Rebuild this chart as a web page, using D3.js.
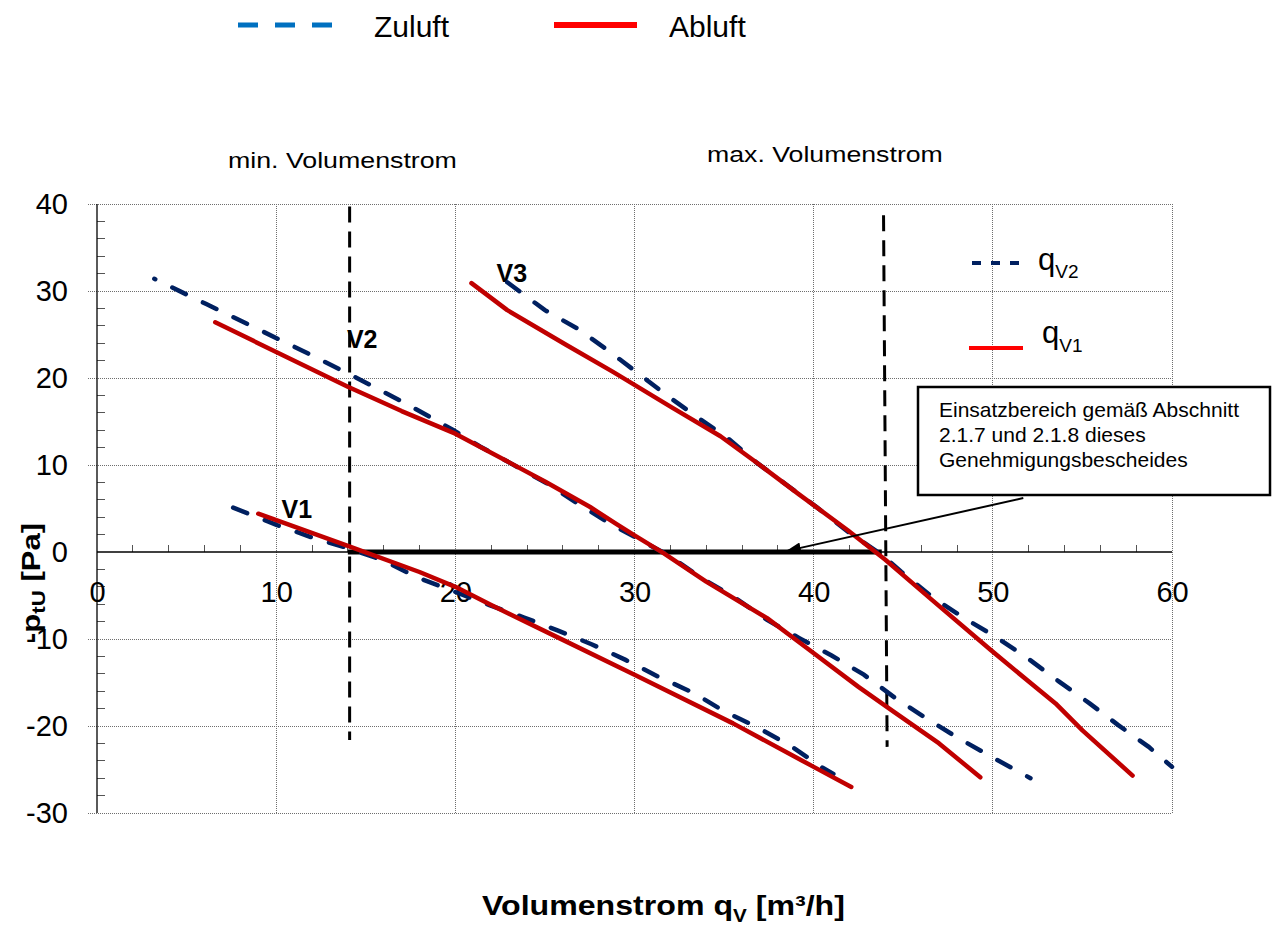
<!DOCTYPE html>
<html>
<head>
<meta charset="utf-8">
<script src="https://cdn.jsdelivr.net/npm/d3@7"></script>
<style>
  body { margin: 0; background: #fff; }
  svg { display: block; font-family: "Liberation Sans", Arial, sans-serif; }
</style>
</head>
<body>
<div id="chart"></div>
<script>
// Axis ticks
var xTicks = [0, 10, 20, 30, 40, 50, 60];
var yTicks = [-30, -20, -10, 0, 10, 20, 30, 40];
var xMinor = [2, 4, 6, 8, 12, 14, 16, 18, 22, 24, 26, 28, 32, 34, 36, 38, 42, 44, 46, 48, 52, 54, 56, 58];
var yMinor = [-28, -26, -24, -22, -18, -16, -14, -12, -8, -6, -4, -2, 2, 4, 6, 8, 12, 14, 16, 18, 22, 24, 26, 28, 32, 34, 36, 38];

// Curves: [q_V, -p_tU]
var v1Zuluft = [[7.6, 5.1], [10.05, 3.1], [12.1, 1.6], [14, 0.45], [15.9, -0.9], [17.85, -2.9], [21.9, -6.1], [23.8, -7.5], [25.7, -9.0], [27.6, -10.6], [29.5, -12.4], [31.3, -14.3], [33.3, -16.2], [35.0, -18.3], [36.9, -20.2], [38.8, -22.4], [40.5, -24.8], [41.1, -25.5]];
var v1Abluft = [[9.0, 4.4], [14, 0.7], [18, -2.3], [20, -4.0], [22, -6.1], [26, -10.1], [30, -14.1], [35.5, -19.7], [40, -24.7], [42.1, -27.0]];
var v2Zuluft = [[3.2, 31.4], [6.1, 28.5], [8.9, 25.7], [11.7, 22.9], [14.5, 20.0], [17.3, 17.0], [19.9, 14.0], [21.4, 12.1], [23.0, 10.3], [25.1, 7.9], [26.8, 5.6], [28.6, 3.3], [30.3, 1.4], [32, -0.5], [33.8, -3.1], [35.5, -5.1], [37.4, -7.8], [39.2, -9.9], [41, -11.9], [42.8, -14.1], [44.5, -16.7], [46.2, -19.0], [48, -21.3], [49.8, -23.4], [52.1, -26.0]];
var v2Abluft = [[6.6, 26.4], [10, 23.0], [14, 19.0], [17, 16.2], [20, 13.6], [23, 10.3], [25, 8.1], [27.5, 5.2], [29, 3.2], [30, 1.9], [31.6, -0.1], [34, -3.4], [37.4, -7.6], [39.6, -11.0], [42.5, -15.5], [44.5, -18.4], [47, -22.0], [49.3, -25.9]];
var v3Zuluft = [[22.9, 31.0], [25, 27.8], [26.8, 25.7], [28.5, 23.2], [30.1, 20.7], [31.8, 18.0], [33.5, 15.5], [35.2, 13.1], [36.8, 10.3], [38.5, 7.7], [40.2, 5.1], [42.0, 2.2], [43.8, -0.3], [44.9, -2.3], [46.7, -5.3], [48.4, -7.6], [50.2, -9.8], [52, -12.3], [53.7, -14.9], [55.4, -17.4], [57, -19.9], [58.7, -22.4], [60, -24.7]];
var v3Abluft = [[20.9, 30.9], [22.9, 27.8], [26.2, 23.8], [28.8, 20.7], [32.1, 16.6], [34.8, 13.3], [37.0, 10.0], [39.2, 6.6], [41.9, 2.5], [44.0, -0.9], [46.6, -5.5], [49.9, -11.3], [52.6, -15.9], [53.5, -17.4], [55, -20.5], [57.8, -25.7]];

// Volumenstrom limits and operating range
var minLine = [[14.1, 39.7], [14.1, -21.6]];
var maxLine = [[43.9, 38.7], [44.1, -22.4]];
var rangeLine = [[14, 0], [43.8, 0]];
var arrowLine = [[51.7, 6.2], [38.45, 0.1]];

var curveLabels = ["V1", "V2", "V3"];
var boxLines = ["Einsatzbereich gemäß Abschnitt", "2.1.7 und 2.1.8 dieses", "Genehmigungsbescheides"];

var svg = d3.select("#chart")
    .append("svg")
    .attr("width", 1272)
    .attr("height", 926);

var x = d3.scaleLinear().domain([0, 60]).range([97, 1172]);
var y = d3.scaleLinear().domain([-30, 40]).range([813, 204]);

// stretch a text horizontally to a target width (the original font is wider)
function stretch(sel, target, x0) {
    var w = sel.node().getBBox().width;
    var k = target / w;
    sel.attr("transform", "translate(" + x0 + ",0) scale(" + k + ",1) translate(" + (-x0) + ",0)");
}

// gridlines
var grid = svg.append("g")
    .attr("stroke", "#6e6e6e")
    .attr("stroke-width", 1)
    .attr("stroke-dasharray", "1,1")
    .attr("shape-rendering", "crispEdges");

grid.selectAll(".vg")
    .data(xTicks.filter(d => d > 0))
    .join("line")
    .attr("x1", d => x(d)).attr("x2", d => x(d))
    .attr("y1", y(40)).attr("y2", y(-30));

grid.selectAll(".hg")
    .data(yTicks.filter(d => d !== 0))
    .join("line")
    .attr("x1", x(0) - 9).attr("x2", x(60))
    .attr("y1", d => y(d)).attr("y2", d => y(d));

// minor ticks
svg.append("g")
    .attr("stroke", "#555")
    .attr("shape-rendering", "crispEdges")
    .selectAll("line")
    .data(xMinor)
    .join("line")
    .attr("x1", d => x(d)).attr("x2", d => x(d))
    .attr("y1", y(0)).attr("y2", y(0) - 7);

svg.append("g")
    .attr("stroke", "#555")
    .attr("shape-rendering", "crispEdges")
    .selectAll("line")
    .data(yMinor)
    .join("line")
    .attr("x1", x(0)).attr("x2", x(0) + 8)
    .attr("y1", d => y(d)).attr("y2", d => y(d));

// axis lines
svg.append("line")
    .attr("x1", x(0)).attr("x2", x(60))
    .attr("y1", y(0)).attr("y2", y(0))
    .attr("stroke", "#000").attr("stroke-width", 1.3);
svg.append("line")
    .attr("x1", x(0)).attr("x2", x(0))
    .attr("y1", y(40)).attr("y2", y(-30))
    .attr("stroke", "#000").attr("stroke-width", 1.3);

// tick labels through d3 axes (plain hyphen minus like the original)
var bottomAxis = d3.axisBottom(x).tickValues(xTicks).tickSize(0).tickPadding(29)
    .tickFormat(d => String(d));
var leftAxis = d3.axisLeft(y).tickValues(yTicks).tickSize(0).tickPadding(29)
    .tickFormat(d => String(d));

var gx = svg.append("g")
    .attr("transform", "translate(0," + y(0) + ")")
    .call(bottomAxis);
var gy = svg.append("g")
    .attr("transform", "translate(" + x(0) + ",0)")
    .call(leftAxis);
[gx, gy].forEach(function (g) {
    g.select(".domain").remove();
    g.selectAll("text")
        .attr("fill", "#000")
        .style("font-size", "29px")
        .style("font-family", "'Liberation Sans', Arial, sans-serif");
});

// curve labels V1..V3
var labelPos = [[10.3, 3.9], [13.95, 23.4], [22.3, 31.0]];
svg.append("g")
    .selectAll("text")
    .data(curveLabels)
    .join("text")
    .attr("x", (d, i) => x(labelPos[i][0]))
    .attr("y", (d, i) => y(labelPos[i][1]))
    .style("font-size", "25px")
    .style("font-weight", "bold")
    .text(d => d);

var line = d3.line().x(d => x(d[0])).y(d => y(d[1]));

// min / max Volumenstrom lines
[minLine, maxLine].forEach(function (pts) {
    svg.append("path")
        .attr("d", line(pts))
        .attr("fill", "none")
        .attr("stroke", "#000")
        .attr("stroke-width", 3)
        .attr("stroke-dasharray", "16,9");
});

svg.append("path")
    .attr("d", line(rangeLine))
    .attr("fill", "none")
    .attr("stroke", "#000")
    .attr("stroke-width", 5);

// curves
var zuluft = [v1Zuluft, v2Zuluft, v3Zuluft];
var zuluftOffset = [0, 14, 0];
var abluft = [v1Abluft, v2Abluft, v3Abluft];

svg.append("g")
    .selectAll("path")
    .data(zuluft)
    .join("path")
    .attr("d", line)
    .attr("fill", "none")
    .attr("stroke", "#002060")
    .attr("stroke-width", 4.5)
    .attr("stroke-linecap", "round")
    .attr("stroke-dasharray", "15,19")
    .attr("stroke-dashoffset", (d, i) => zuluftOffset[i]);

svg.append("g")
    .selectAll("path")
    .data(abluft)
    .join("path")
    .attr("d", line)
    .attr("fill", "none")
    .attr("stroke", "#C00000")
    .attr("stroke-width", 4.5)
    .attr("stroke-linecap", "round")
    .attr("stroke-linejoin", "round");

// annotation box
svg.append("rect")
    .attr("x", 918).attr("y", 387)
    .attr("width", 352).attr("height", 108)
    .attr("fill", "#fff")
    .attr("stroke", "#000")
    .attr("stroke-width", 2.5);

svg.append("g")
    .selectAll("text")
    .data(boxLines)
    .join("text")
    .attr("x", 939)
    .attr("y", (d, i) => 417 + i * 25)
    .style("font-size", "21px")
    .text(d => d);

// arrow
svg.append("defs").append("marker")
    .attr("id", "head")
    .attr("markerUnits", "userSpaceOnUse")
    .attr("markerWidth", 16).attr("markerHeight", 11)
    .attr("refX", 15).attr("refY", 5.5)
    .attr("orient", "auto")
    .append("path")
    .attr("d", "M0,0L15,5.5L0,11Z")
    .attr("fill", "#000");

svg.append("path")
    .attr("d", line(arrowLine))
    .attr("fill", "none")
    .attr("stroke", "#000")
    .attr("stroke-width", 2)
    .attr("marker-end", "url(#head)");

// top legend
svg.append("line")
    .attr("x1", 238).attr("x2", 333).attr("y1", 25).attr("y2", 25)
    .attr("stroke", "#0070C0").attr("stroke-width", 5)
    .attr("stroke-dasharray", "20,17");
svg.append("text").attr("x", 374).attr("y", 37)
    .style("font-size", "30px").text("Zuluft");
svg.append("line")
    .attr("x1", 554).attr("x2", 637).attr("y1", 25).attr("y2", 25)
    .attr("stroke", "#FF0000").attr("stroke-width", 6);
svg.append("text").attr("x", 669).attr("y", 37)
    .style("font-size", "30px").text("Abluft");

// min / max labels
var minText = svg.append("text").attr("x", 228).attr("y", 168)
    .style("font-size", "22px").text("min. Volumenstrom");
stretch(minText, 229, 228);
var maxText = svg.append("text").attr("x", 707).attr("y", 162)
    .style("font-size", "22px").text("max. Volumenstrom");
stretch(maxText, 236, 707);

// right legend
svg.append("line")
    .attr("x1", 972).attr("x2", 1021).attr("y1", 263).attr("y2", 263)
    .attr("stroke", "#002060").attr("stroke-width", 4)
    .attr("stroke-dasharray", "9,10");
var q2 = svg.append("text").attr("x", 1038).attr("y", 270).style("font-size", "31px");
q2.append("tspan").text("q");
q2.append("tspan").attr("dy", 8).style("font-size", "19px").text("V2");

svg.append("line")
    .attr("x1", 969).attr("x2", 1023).attr("y1", 348).attr("y2", 348)
    .attr("stroke", "#FF0000").attr("stroke-width", 4);
var q1 = svg.append("text").attr("x", 1042).attr("y", 343).style("font-size", "31px");
q1.append("tspan").text("q");
q1.append("tspan").attr("dy", 9).style("font-size", "19px").text("V1");

// x axis title
var xTitle = svg.append("text").attr("x", 482).attr("y", 915)
    .style("font-size", "28px").style("font-weight", "bold");
xTitle.append("tspan").text("Volumenstrom q");
xTitle.append("tspan").attr("dy", 7).style("font-size", "18px").text("V");
xTitle.append("tspan").attr("dy", -7).text(" [m³/h]");
stretch(xTitle, 363, 482);

// y axis title
var yTitleG = svg.append("g").attr("transform", "translate(40,583) rotate(-90)");
var yTitle = yTitleG.append("text")
    .attr("x", 0).attr("y", 0)
    .attr("text-anchor", "middle")
    .style("font-size", "25px").style("font-weight", "bold");
yTitle.append("tspan").text("-p");
yTitle.append("tspan").attr("dy", 5).style("font-size", "18px").text("tU");
yTitle.append("tspan").attr("dy", -5).text(" [Pa]");
stretch(yTitle, 120, 0);
</script>
</body>
</html>
